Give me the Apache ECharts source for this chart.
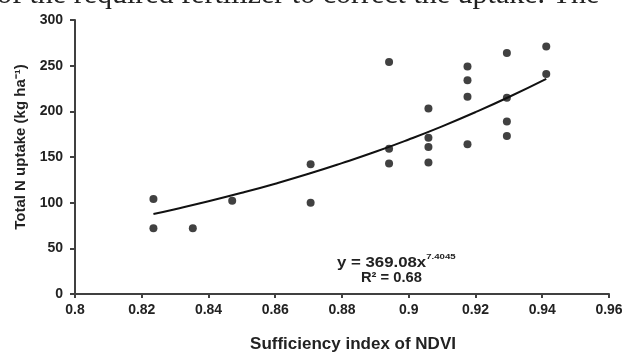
<!DOCTYPE html>
<html>
<head>
<meta charset="utf-8">
<script src="https://cdn.jsdelivr.net/npm/echarts@6/dist/echarts.min.js"></script>
<style>html,body{margin:0;padding:0;background:#fff}#c{width:633px;height:358px}</style>
</head>
<body>
<div id="c"></div>
<script>
// Data
const siNDVI = [0.8235,0.8235,0.8353,0.8471,0.8706,0.8706,0.8941,0.8941,0.8941,0.9059,0.9059,0.9059,0.9059,0.9176,0.9176,0.9176,0.9176,0.9294,0.9294,0.9294,0.9294,0.9412,0.9412];
const nUptake = [104,72,72,102,142,100,254,159,143,203,171,161,144,249,234,216,164,264,215,189,173,271,241];
// Power trend line as seen in the picture
const trendX = [0.8235,0.83,0.84,0.85,0.86,0.87,0.88,0.89,0.90,0.91,0.92,0.93,0.9412];
const trendY = [87.6,92.9,101.5,110.8,120.8,131.6,143.3,155.7,169.2,183.6,199.1,215.7,235.6];
const xTitle = 'Sufficiency index of NDVI';
const yTitle = 'Total N uptake (kg ha⁻¹)';
const eqLine1 = 'y = 369.08x';
const eqExp = '7.4045';
const eqLine2 = 'R² = 0.68';
const topText = 'of the required fertilizer to correct the uptake. The';

const font = '"Liberation Sans", Arial, sans-serif';
const chart = echarts.init(document.getElementById('c'));
chart.setOption({
  animation: false,
  backgroundColor: '#fff',
  grid: {left: 75, right: 24, top: 20, bottom: 56.5},
  xAxis: {
    type: 'value', min: 0.8, max: 0.96, interval: 0.02,
    name: xTitle, nameLocation: 'middle', nameGap: 42,
    nameTextStyle: {fontFamily: font, fontWeight: 'bold', fontSize: 17, color: '#222', padding: [0, 0, 0, 22]},
    axisLine: {lineStyle: {color: '#404040', width: 2}},
    axisTick: {show: true, length: 4, lineStyle: {color: '#404040', width: 2}},
    axisLabel: {fontFamily: font, fontWeight: 'bold', fontSize: 14, color: '#222', margin: 9,
      formatter: v => String(Math.round(v * 100) / 100)},
    splitLine: {show: false}
  },
  yAxis: {
    type: 'value', min: 0, max: 300, interval: 50,
    name: yTitle, nameLocation: 'middle', nameGap: 37, nameRotate: 90,
    nameTextStyle: {fontFamily: font, fontWeight: 'bold', fontSize: 15, color: '#222', padding: [0, 0, 0, 20]},
    axisLine: {show: true, lineStyle: {color: '#404040', width: 2}},
    axisTick: {show: true, length: 5, lineStyle: {color: '#404040', width: 2}},
    axisLabel: {fontFamily: font, fontWeight: 'bold', fontSize: 14, color: '#222', margin: 12},
    splitLine: {show: false}
  },
  series: [
    {
      type: 'line', data: trendX.map((x, i) => [x, trendY[i]]), smooth: true,
      showSymbol: false, lineStyle: {color: '#111', width: 2}, z: 2
    },
    {
      type: 'scatter', data: siNDVI.map((x, i) => [x, nUptake[i]]),
      symbol: 'circle', symbolSize: 8, itemStyle: {color: '#111'}, z: 3
    }
  ],
  graphic: [
    {
      type: 'text', left: 337, top: 253, scaleX: 1.2,
      style: {
        text: '{m|' + eqLine1 + '}{s|' + eqExp + '}',
        rich: {
          m: {fontFamily: font, fontWeight: 'bold', fontSize: 14, fill: '#222', lineHeight: 17, verticalAlign: 'bottom'},
          s: {fontFamily: font, fontWeight: 'bold', fontSize: 8, fill: '#222', lineHeight: 17, verticalAlign: 'top'}
        }
      }
    },
    {
      type: 'text', left: 361, top: 271, scaleX: 1.05,
      style: {text: eqLine2, fontFamily: font, fontWeight: 'bold', fontSize: 14, fill: '#222'}
    },
    {
      type: 'text', left: -3, top: -20,
      style: {text: topText, fontFamily: '"Liberation Serif", "Times New Roman", serif', fontSize: 30, fill: '#222'}
    }
  ]
});
</script>
</body>
</html>
